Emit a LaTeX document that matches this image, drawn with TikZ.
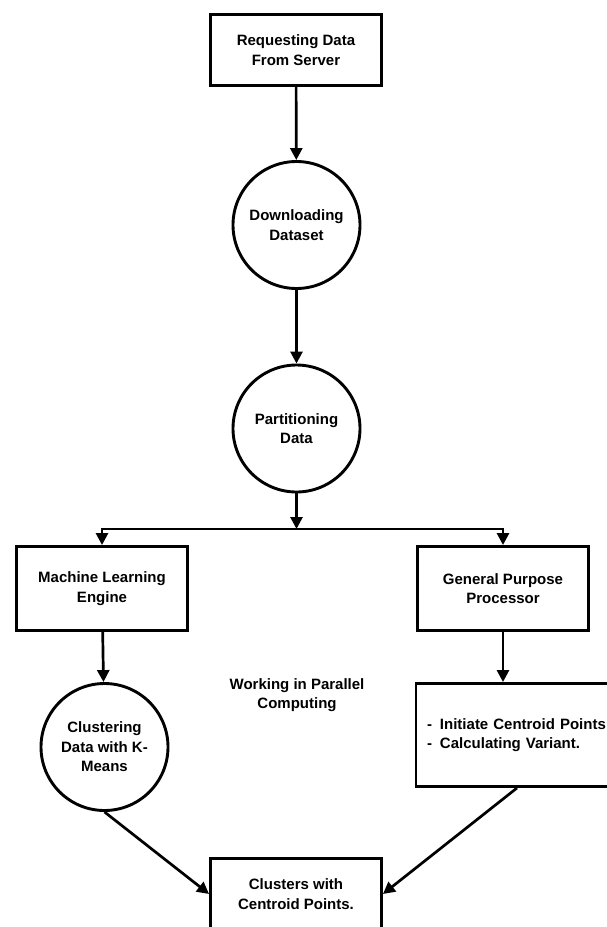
\documentclass[tikz,border=0pt]{standalone}
\usepackage{fontspec}
\newfontfamily\lblfont{Liberation Sans}
\usetikzlibrary{arrows.meta}
\tikzset{
  lbltext/.style={font=\lblfont\bfseries\fontsize{15pt}{19.5pt}\selectfont},
  base/.style={draw=black, line width=2.9pt, lbltext, align=center, inner sep=2pt},
  boxnode/.style={base, rectangle, minimum width=171pt, minimum height=71pt},
  circnode/.style={base, circle, minimum size=127pt},
  plain/.style={lbltext, align=center},
  arr/.style={line width=2.7pt, -{Triangle[length=12pt,width=12pt]}}
}
\begin{document}
\begin{tikzpicture}[x=1pt,y=-1pt]
\useasboundingbox (0,0) rectangle (606,927);
\node[boxnode] (req) at (296,50) {Requesting Data\\From Server};
\node[circnode] (dl) at (296.5,225) {Downloading\\Dataset};
\node[circnode] (part) at (296.5,428.5) {Partitioning\\Data};
\coordinate (split) at (296.5,529);
\node[boxnode, minimum height=84pt] (ml) at (102,588.5) {Machine Learning\\Engine};
\node[boxnode, minimum height=84pt] (gpp) at (503,588.5) {General Purpose\\Processor};
\node[circnode] (clus) at (104.5,747) {Clustering\\Data with K-\\Means};
\node[base, rectangle, align=left, text width=180pt, inner xsep=11pt, minimum height=103pt] (init) at (517,735)
  {\makebox[13pt][l]{-}Initiate Centroid Points\\\makebox[13pt][l]{-}Calculating Variant.};
\node[plain] (par) at (297,695) {Working in Parallel\\Computing};
\node[boxnode] (fin) at (296,894) {Clusters with\\Centroid Points.};
\draw[arr] (req) -- (dl);
\draw[arr] (dl) -- (part);
\draw[arr] (part) -- (split);
\draw[arr] (split) -| (ml);
\draw[arr] (split) -| (gpp);
\draw[arr] (ml) -- (clus);
\draw[arr] (gpp) -- (init.north -| gpp);
\draw[arr] (clus.south) -- (fin.west);
\draw[arr] (init.south) -- (fin.east);
\end{tikzpicture}
\end{document}
